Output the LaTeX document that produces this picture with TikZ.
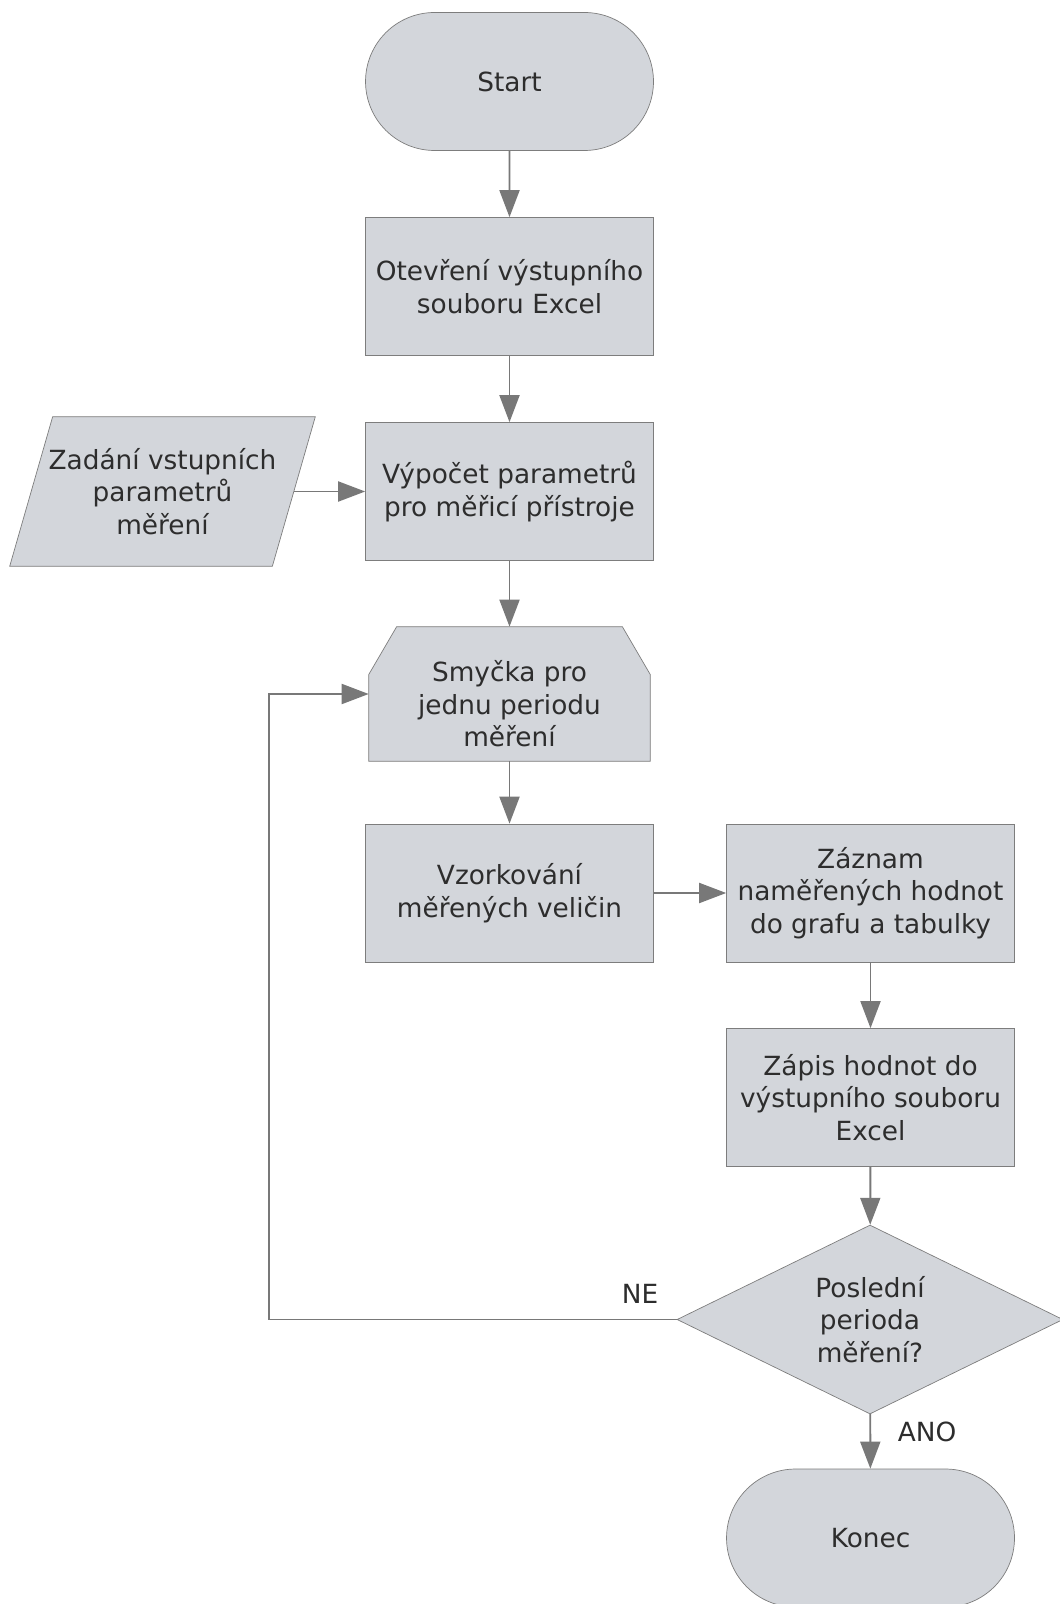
\documentclass[tikz,border=0pt]{standalone}
\usepackage{fontspec}
\setmainfont{DejaVu Sans}
\usepackage{xcolor}
\definecolor{boxfill}{RGB}{211,214,219}
\definecolor{boxline}{RGB}{125,125,125}
\definecolor{flowgrey}{RGB}{120,120,120}
\definecolor{txt}{RGB}{45,45,45}
\usepackage{tikz}
\usetikzlibrary{arrows.meta,positioning,shapes.geometric,shapes.misc,backgrounds}

\begin{document}
\begin{tikzpicture}[x=0.02cm,y=-0.02cm,
        blk/.style={draw=boxline,fill=boxfill,text=txt,align=center,font=\fontsize{15}{18.5}\selectfont,inner sep=0pt},
        proc/.style={blk,rectangle,minimum width=5.76cm,minimum height=2.76cm},
        term/.style={blk,rounded rectangle,minimum width=5.76cm,minimum height=2.76cm},
        leer/.style={blk,rectangle,draw=none,fill=none},
        umriss/.style={draw=boxline,fill=boxfill},
        frage/.style={blk,diamond,aspect=2,minimum width=7.72cm,minimum height=3.78cm},
        marke/.style={text=txt,align=center,font=\fontsize{15}{18.5}\selectfont},
        flow/.style={draw=flowgrey,line width=1.1pt,-{Triangle[length=0.54cm,width=0.4cm]}}]
        \useasboundingbox (0,0) rectangle (1059,1604);                          % Umgebung
        \node[term] (start) at (509.5,81.5) {Start};                            % Start
        \node[proc] (otev) at (509.5,286.5) {Otevření výstupního\\souboru Excel};
        \node[proc] (vyp) at (509.5,491.5) {Výpočet parametrů\\pro měřicí přístroje};
        \node[leer,minimum width=5.24cm,minimum height=2.98cm] (zad) at (162.5,491.5) {Zadání vstupních\\parametrů\\měření}; % Eingabe
        \node[leer,minimum width=5.62cm,minimum height=2.68cm] (loop) at (509.5,694) {}; % Schleife
        \node[marke] (loopt) at (509.5,704) {Smyčka pro\\jednu periodu\\měření};  % Schleife Text
        \node[proc] (vzor) at (509.5,893) {Vzorkování\\měřených veličin};
        \node[proc] (zazn) at (870.5,893) {Záznam\\naměřených hodnot\\do grafu a tabulky};
        \node[proc] (zapis) at (870.5,1097.5) {Zápis hodnot do\\výstupního souboru\\Excel};
        \node[frage] (posl) at (870,1319.5) {Poslední\\perioda\\měření?};   % Abfrage
        \node[term] (konec) at (870.5,1538) {Konec};                           % Ende
        \begin{scope}[on background layer]
            \draw[umriss] ([xshift=-0.43cm]zad.south west) -- ([xshift=0.43cm]zad.north west) -- ([xshift=0.43cm]zad.north east) -- ([xshift=-0.43cm]zad.south east) -- cycle; % Parallelogramm
            \draw[umriss] (loop.south west) -- ([yshift=-0.96cm]loop.north west) -- ([xshift=0.56cm]loop.north west) -- ([xshift=-0.56cm]loop.north east) -- ([yshift=-0.96cm]loop.north east) -- (loop.south east) -- cycle; % Schleifenkopf
        \end{scope}
        \coordinate (rueck) at (269,1000);                                     % Rücksprung
        \draw[flow] (start) -- (otev);
        \draw[flow] (otev) -- (vyp);
        \draw[flow] (zad) -- (vyp);
        \draw[flow] (vyp) -- (loop);
        \draw[flow] (loop) -- (vzor);
        \draw[flow] (vzor) -- (zazn);
        \draw[flow] (zazn) -- (zapis);
        \draw[flow] (zapis) -- (posl);
        \draw[flow] (posl) -- (konec);                                         % ANO-Zweig
        \draw[flow] (posl.west) -| (rueck) |- (loop.west);                      % NE-Zweig
        \node[marke] (ne) at (640,1294) {NE};
        \node[marke] (ano) at (927,1432) {ANO};
    \end{tikzpicture}
\end{document}
